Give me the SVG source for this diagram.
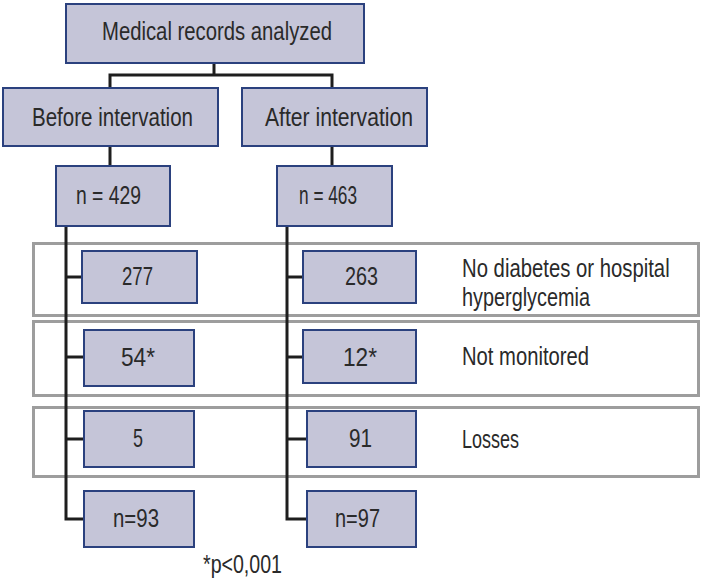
<svg xmlns="http://www.w3.org/2000/svg" width="703" height="581" viewBox="0 0 703 581">
<style>
.box{fill:#c5c5d8;stroke:#2b417e;stroke-width:2}
.panel{fill:none;stroke:#9d9d9d;stroke-width:3}
.conn{fill:none;stroke:#1e1e1e;stroke-width:3}
text{font-family:"Liberation Sans",Arial,sans-serif;font-size:25px;fill:#2a2a2a}
</style>
<rect width="703" height="581" fill="#ffffff"/>
<g id="panels">
<rect class="panel" x="33.5" y="243.5" width="665" height="72"/>
<rect class="panel" x="33.5" y="321.5" width="665" height="74"/>
<rect class="panel" x="33.5" y="407.5" width="665" height="69"/>
</g>
<g id="connectors">
<polyline class="conn" points="214,63 214,75"/>
<polyline class="conn" points="110,87 110,75 332,75 332,87"/>
<line class="conn" x1="110" y1="146" x2="110" y2="166"/>
<line class="conn" x1="332" y1="146" x2="332" y2="166"/>
<polyline class="conn" points="66,226 66,519 84,519"/>
<polyline class="conn" points="287,226 287,519 307,519"/>
<line class="conn" x1="66" y1="277" x2="82" y2="277"/>
<line class="conn" x1="66" y1="357" x2="84" y2="357"/>
<line class="conn" x1="66" y1="439" x2="84" y2="439"/>
<line class="conn" x1="287" y1="277" x2="303" y2="277"/>
<line class="conn" x1="287" y1="357" x2="303" y2="357"/>
<line class="conn" x1="287" y1="439" x2="307" y2="439"/>
</g>
<g id="records"><rect class="box" x="66" y="4" width="298" height="59"/><text x="102" y="40" textLength="230" lengthAdjust="spacingAndGlyphs">Medical records analyzed</text></g>
<g id="before"><rect class="box" x="3" y="88" width="215" height="58"/><text x="32" y="126" textLength="161" lengthAdjust="spacingAndGlyphs">Before intervation</text></g>
<g id="after"><rect class="box" x="242" y="88" width="185" height="58"/><text x="265" y="126" textLength="148" lengthAdjust="spacingAndGlyphs">After intervation</text></g>
<g id="n429"><rect class="box" x="56" y="166" width="114" height="60"/><text x="76" y="204" textLength="65" lengthAdjust="spacingAndGlyphs">n = 429</text></g>
<g id="n463"><rect class="box" x="277" y="166" width="115" height="60"/><text x="299" y="204" textLength="58" lengthAdjust="spacingAndGlyphs">n = 463</text></g>
<g id="b277"><rect class="box" x="82" y="251" width="115" height="52"/><text x="122" y="285" textLength="31" lengthAdjust="spacingAndGlyphs">277</text></g>
<g id="a263"><rect class="box" x="303" y="251" width="113" height="52"/><text x="345" y="285" textLength="33" lengthAdjust="spacingAndGlyphs">263</text></g>
<g id="b54"><rect class="box" x="84" y="330" width="110" height="56"/><text x="121" y="366" textLength="34" lengthAdjust="spacingAndGlyphs">54*</text></g>
<g id="a12"><rect class="box" x="303" y="330" width="113" height="53"/><text x="343" y="366" textLength="34" lengthAdjust="spacingAndGlyphs">12*</text></g>
<g id="b5"><rect class="box" x="84" y="411" width="110" height="56"/><text x="133" y="447" textLength="10" lengthAdjust="spacingAndGlyphs">5</text></g>
<g id="a91"><rect class="box" x="307" y="411" width="109" height="56"/><text x="349" y="447" textLength="23" lengthAdjust="spacingAndGlyphs">91</text></g>
<g id="b93"><rect class="box" x="84" y="491" width="110" height="56"/><text x="113" y="527" textLength="46" lengthAdjust="spacingAndGlyphs">n=93</text></g>
<g id="a97"><rect class="box" x="307" y="491" width="109" height="56"/><text x="335" y="527" textLength="45" lengthAdjust="spacingAndGlyphs">n=97</text></g>
<g id="labels">
<text transform="translate(462,277) scale(0.8125,1)">No diabetes or hospital</text>
<text x="462" y="306" textLength="128" lengthAdjust="spacingAndGlyphs">hyperglycemia</text>
<text x="462" y="365" textLength="127" lengthAdjust="spacingAndGlyphs">Not monitored</text>
<text x="462" y="448" textLength="57" lengthAdjust="spacingAndGlyphs">Losses</text>
<text x="203" y="573" textLength="79" lengthAdjust="spacingAndGlyphs">*p&lt;0,001</text>
</g>
</svg>
